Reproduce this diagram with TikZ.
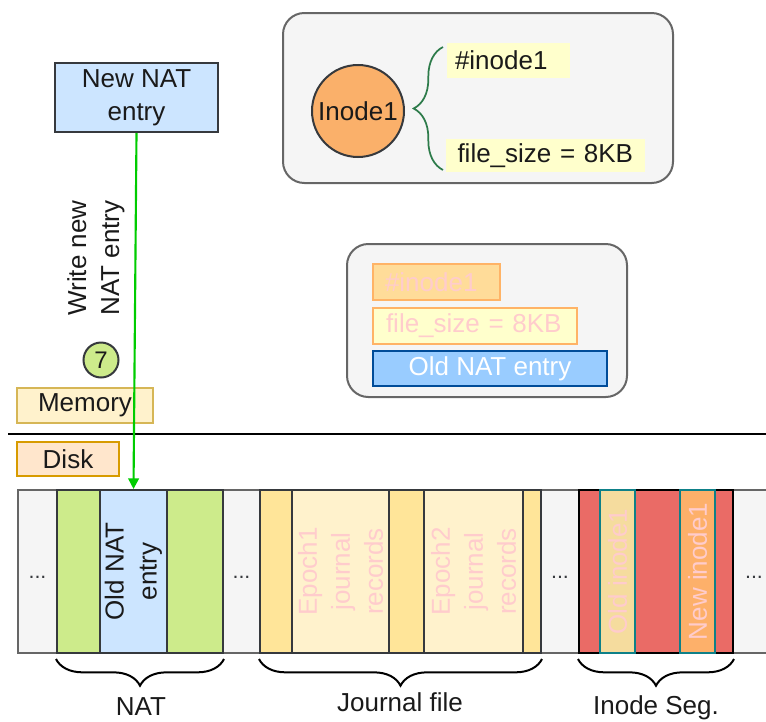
\documentclass[tikz,border=0pt]{standalone}
\usepackage{fontspec}
\setmainfont{Liberation Sans}
\usetikzlibrary{decorations.pathreplacing,arrows.meta}
\definecolor{grayfill}{HTML}{F5F5F5}
\definecolor{grayline}{HTML}{666666}
\definecolor{darkline}{HTML}{36393D}
\definecolor{natgreen}{HTML}{CDEB8B}
\definecolor{natblue}{HTML}{CCE5FF}
\definecolor{jdark}{HTML}{FFE599}
\definecolor{jlight}{HTML}{FFF2CC}
\definecolor{inodered}{HTML}{EA6B66}
\definecolor{oldinode}{HTML}{F5DC9E}
\definecolor{newinode}{HTML}{FDB06A}
\definecolor{tealline}{HTML}{0E8088}
\definecolor{pinktext}{HTML}{FFCCCC}
\definecolor{circorange}{HTML}{FAB06A}
\definecolor{hlyellow}{HTML}{FFFFCC}
\definecolor{orangeline}{HTML}{FFB366}
\definecolor{orangefill}{HTML}{FFDC99}
\definecolor{oldblue}{HTML}{99CCFF}
\definecolor{oldblueline}{HTML}{004C99}
\definecolor{memfill}{HTML}{FFF2CC}
\definecolor{memline}{HTML}{D6B656}
\definecolor{diskfill}{HTML}{FFE6CC}
\definecolor{diskline}{HTML}{D79B00}
\definecolor{bracegreen}{HTML}{2D7B4A}
\definecolor{arrowgreen}{HTML}{00CC00}
\definecolor{textdark}{HTML}{1A1A1A}
\begin{document}
\begin{tikzpicture}[x=0.75pt,y=-0.75pt,
  every node/.style={font=\fontsize{19.5pt}{24.75pt}\selectfont, inner sep=0pt, text=textdark},
  panel/.style={draw=grayline, fill=grayfill, line width=1.5pt, rounded corners=16pt},
  blk/.style={draw=darkline, line width=1.5pt, minimum height=122.25pt},
  hl/.style={fill=hlyellow, align=left, inner xsep=6pt, minimum height=25pt},
  pinkbox/.style={draw=orangeline, line width=1.5pt, align=left, text=pinktext, minimum height=27pt},
  dotstext/.style={font=\fontsize{16pt}{18pt}\selectfont, text=darkline},
  vtext/.style={rotate=90, align=center},
  bottombrace/.style={decorate, decoration={brace, mirror, amplitude=20pt}, line width=1.5pt, draw=black},
  labelbox/.style={line width=1.5pt, minimum height=26pt}
]
\useasboundingbox (0,0) rectangle (766,721);

% ---- memory side: inode panel
\node[panel, minimum width=292.5pt, minimum height=127.5pt] (panel1) at (478,98) {};
\node[circle, draw=darkline, fill=circorange, line width=1.5pt, minimum size=69pt] (inode) at (358,111) {Inode1};
\node[hl, text width=80.25pt, minimum height=26.25pt] (ino1) at (508.5,60.5) {\#inode1};
\node[hl, text width=132pt, inner xsep=8.6pt, minimum height=24.75pt] (fs1) at (545.5,155.5) {file\_size = 8KB};
\coordinate (brtop) at (443,47);
\coordinate (brbot) at (443,170);
\draw[decorate, decoration={brace, amplitude=22pt}, draw=bracegreen, line width=1.3pt] (brbot) -- (brtop);

% ---- second panel
\node[panel, minimum width=210pt, minimum height=114.75pt] (panel2) at (487,320.5) {};
\node[pinkbox, fill=orangefill, text width=77.25pt, inner xsep=9pt] (ino2) at (436.5,282) {\#inode1};
\node[pinkbox, fill=hlyellow, text width=133.5pt, inner xsep=9.75pt] (fs2) at (475,326) {file\_size = 8KB};
\node[draw=oldblueline, fill=oldblue, line width=1.5pt, text=white, minimum width=175.5pt, minimum height=26.25pt] (oldentry) at (490,368.5) {Old NAT entry};

% ---- new NAT entry
\node[draw=darkline, fill=natblue, line width=1.6pt, minimum width=122.25pt, minimum height=51.75pt, align=center] (newnat) at (136.5,97.5) {New NAT\\entry};
\node[vtext] (writelbl) at (96,258) {Write new\\NAT entry};
\node[circle, draw=darkline, fill=natgreen, line width=1.5pt, minimum size=26.25pt, font=\fontsize{18pt}{20pt}\selectfont] (step7) at (101,360) {7};

% ---- memory / disk
\node[labelbox, draw=memline, fill=memfill, minimum width=102pt] (mem) at (85,405.5) {Memory};
\coordinate (sepL) at (8,434);
\coordinate (sepR) at (766,434);
\draw[line width=1.5pt, black] (sepL) -- (sepR);
\node[labelbox, draw=diskline, fill=diskfill, minimum width=76.5pt, minimum height=25.5pt] (disk) at (68,459) {Disk};

% ---- disk row
\node[draw=grayline, fill=grayfill, line width=1.5pt, minimum width=571.5pt, minimum height=122.25pt] (row) at (399,571.5) {};
\node[blk, fill=natgreen, minimum width=32.25pt] (nat1) at (78.5,571.5) {};
\node[blk, fill=natblue, minimum width=50.25pt] (oldnat) at (133.5,571.5) {};
\node[vtext] (oldnattxt) at (133.5,571.5) {Old NAT\\entry};
\node[blk, fill=natgreen, minimum width=42pt] (nat2) at (195,571.5) {};

\node[blk, fill=jdark, minimum width=24pt] (j1) at (276,571.5) {};
\node[blk, fill=jlight, minimum width=72.75pt] (ep1) at (340.5,571.5) {};
\node[vtext, text=pinktext] (ep1txt) at (340.5,571.5) {Epoch1\\journal\\records};
\node[blk, fill=jdark, minimum width=26.25pt] (j2) at (406.5,571.5) {};
\node[blk, fill=jlight, minimum width=74.25pt] (ep2) at (473.5,571.5) {};
\node[vtext, text=pinktext] (ep2txt) at (473.5,571.5) {Epoch2\\journal\\records};
\node[blk, fill=jdark, minimum width=13.5pt] (j3) at (532,571.5) {};

\node[blk, draw=black, fill=inodered, minimum width=115.5pt] (iseg) at (656,571.5) {};
\node[blk, draw=tealline, line width=1.8pt, fill=oldinode, minimum width=26.25pt] (oldi) at (617.5,571.5) {};
\node[vtext, text=pinktext] (olditxt) at (617.5,571.5) {Old inode1};
\node[blk, draw=tealline, line width=1.8pt, fill=newinode, minimum width=26.25pt] (newi) at (697.5,571.5) {};
\node[vtext, text=pinktext] (newitxt) at (697.5,571.5) {New inode1};

\node[dotstext] (d1) at (37.5,577) {...};
\node[dotstext] (d2) at (241.5,577) {...};
\node[dotstext] (d3) at (560,577) {...};
\node[dotstext] (d4) at (754,577) {...};

% ---- braces and labels
\draw[bottombrace] ([yshift=-3.75pt]nat1.south west) -- ([yshift=-3.75pt]nat2.south east);
\draw[bottombrace] ([yshift=-3.75pt]j1.south west) -- ([yshift=-3.75pt]j3.south east);
\draw[bottombrace] ([yshift=-3.75pt]iseg.south west) -- ([yshift=-3.75pt]iseg.south east);
\node[anchor=base] (natlbl) at (141,715) {NAT};
\node[anchor=base] (jlbl) at (400,711) {Journal file};
\node[anchor=base] (ilbl) at (656,714) {Inode Seg.};

% ---- write arrow
\draw[arrowgreen, line width=1.6pt, -{Triangle[length=8pt,width=8pt]}] (newnat.south) -- (oldnat.north);
\end{tikzpicture}
\end{document}
